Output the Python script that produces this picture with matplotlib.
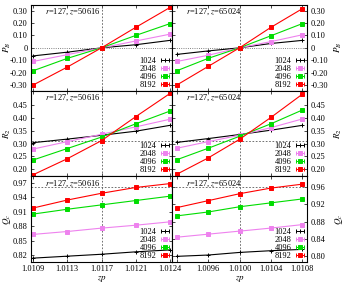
import matplotlib.pyplot as plt
import numpy as np

plt.rcParams['font.family'] = 'serif'
plt.rcParams['font.serif'] = ['Liberation Serif', 'DejaVu Serif']
plt.rcParams['mathtext.fontset'] = 'stix'
plt.rcParams['font.size'] = 6

# system sizes and styles
sizes = ['1024', '2048', '4096', '8192']
colors = ['black', '#ee82ee', '#00dd00', '#ff0000']
markers = ['+', 's', 's', 's']
msizes = [3, 2.2, 2.5, 3.2]

# zp values (x)
zp_left = [1.01088, 1.01127, 1.01166, 1.01205, 1.01244]
zp_left_labels = ['1.0109', '1.0113', '1.0117', '1.0121', '1.0124']
zp_right = [1.0092, 1.0096, 1.0100, 1.0104, 1.0108]
zp_right_labels = ['', '1.0096', '1.0100', '1.0104', '1.0108']

# P_B, rows = 1024, 2048, 4096, 8192
pb_left = [[-0.065, -0.035, 0.0, 0.025, 0.06],
           [-0.11, -0.055, 0.0, 0.055, 0.11],
           [-0.185, -0.085, 0.0, 0.10, 0.195],
           [-0.30, -0.155, 0.0, 0.165, 0.325]]
pb_right = [[-0.053, -0.025, 0.0, 0.035, 0.06],
            [-0.11, -0.06, 0.0, 0.05, 0.105],
            [-0.185, -0.085, 0.0, 0.097, 0.195],
            [-0.30, -0.15, 0.0, 0.165, 0.315]]

# R_2
r2_left = [[0.304, 0.318, 0.333, 0.349, 0.372],
           [0.279, 0.308, 0.337, 0.366, 0.396],
           [0.236, 0.281, 0.326, 0.378, 0.428],
           [0.178, 0.241, 0.312, 0.406, 0.497]]
r2_right = [[0.305, 0.320, 0.336, 0.353, 0.372],
            [0.282, 0.308, 0.333, 0.363, 0.397],
            [0.237, 0.282, 0.329, 0.378, 0.432],
            [0.180, 0.244, 0.317, 0.403, 0.494]]

# Q_c
qc_left = [[0.814, 0.818, 0.822, 0.827, 0.831],
           [0.863, 0.869, 0.876, 0.882, 0.889],
           [0.905, 0.915, 0.924, 0.933, 0.942],
           [0.9175, 0.934, 0.948, 0.960, 0.968]]
qc_right = [[0.800, 0.803, 0.809, 0.813, 0.816],
            [0.844, 0.851, 0.858, 0.865, 0.873],
            [0.893, 0.902, 0.914, 0.923, 0.932],
            [0.912, 0.928, 0.944, 0.957, 0.966]]

pb_ticks = [-0.3, -0.2, -0.1, 0.0, 0.1, 0.2, 0.3]
pb_ticklabels = ['-0.30', '-0.20', '-0.10', '0', '0.10', '0.20', '0.30']
r2_ticks = [0.20, 0.25, 0.30, 0.35, 0.40, 0.45]
r2_ticklabels = ['0.20', '0.25', '0.30', '0.35', '0.40', '0.45']
qc_left_ticks = [0.82, 0.85, 0.88, 0.91, 0.94, 0.97]
qc_left_ticklabels = ['0.82', '0.85', '0.88', '0.91', '0.94', '0.97']
qc_right_ticks = [0.80, 0.84, 0.88, 0.92, 0.96]
qc_right_ticklabels = ['0.80', '0.84', '0.88', '0.92', '0.96']

fig = plt.figure(figsize=(3.45, 2.86), dpi=100)
gs = fig.add_gridspec(3, 2, left=31/345, right=307/345, top=1-5/286,
                      bottom=1-262/286, hspace=0, wspace=0,
                      width_ratios=[141, 135])

cols = [
    dict(x=zp_left, xl=(1.010857, 1.012463), xlab=zp_left_labels,
         xc=1.01166, text=r'$r$=127, $z$=50616', side='left'),
    dict(x=zp_right, xl=(1.00914, 1.01086), xlab=zp_right_labels,
         xc=1.0100, text=r'$r$=127, $z$=65024', side='right'),
]
rows = [
    dict(name='$P_B$', data=[pb_left, pb_right], yl=[(-0.345, 0.345)] * 2,
         ticks=[pb_ticks, pb_ticks], tl=[pb_ticklabels, pb_ticklabels],
         h=[0.0, 0.0], hls=':'),
    dict(name='$R_2$', data=[r2_left, r2_right], yl=[(0.172, 0.508)] * 2,
         ticks=[r2_ticks, r2_ticks], tl=[r2_ticklabels, r2_ticklabels],
         h=[0.310, 0.310], hls=(0, (2, 2))),
    dict(name='$Q_c$', data=[qc_left, qc_right],
         yl=[(0.806, 0.983), (0.787, 0.984)],
         ticks=[qc_left_ticks, qc_right_ticks],
         tl=[qc_left_ticklabels, qc_right_ticklabels],
         h=[0.961, 0.960], hls=(0, (2, 2))),
]

for i, row in enumerate(rows):
    for j, col in enumerate(cols):
        ax = fig.add_subplot(gs[i, j])
        ax.set_xlim(*col['xl'])
        ax.set_ylim(*row['yl'][j])
        ax.axvline(col['xc'], color='0.35', lw=0.6, ls=(0, (2, 2)))
        ax.axhline(row['h'][j], color='0.35', lw=0.6, ls=row['hls'])

        handles = []
        for k in range(4):
            ax.plot(col['x'], row['data'][j][k], color=colors[k], lw=0.8,
                    marker=markers[k], ms=msizes[k], mew=0.7)
            h = ax.errorbar([np.nan], [np.nan], xerr=[1], fmt=markers[k],
                            color=colors[k], ms=msizes[k], mew=0.7,
                            capsize=1.5, elinewidth=0.7, capthick=0.7)
            handles.append(h)
        ax.legend(handles, sizes, loc='lower right', frameon=False,
                  markerfirst=False, handlelength=1.2, handletextpad=0.4,
                  labelspacing=0.0, borderpad=0.1, borderaxespad=0.15,
                  fontsize=6)

        ax.text(0.1, 0.915, col['text'], transform=ax.transAxes,
                ha='left', va='center', fontsize=6)

        ax.set_xticks(col['x'])
        if i == 2:
            ax.set_xticklabels(col['xlab'])
            ax.set_xlabel('$zp$', fontsize=6.5)
            ax.xaxis.set_label_coords(0.5, -0.13)
        else:
            ax.set_xticklabels([])

        ax.set_yticks(row['ticks'][j])
        ax.set_yticklabels(row['tl'][j])
        ax.tick_params(direction='in', top=True, bottom=True, left=True,
                       right=True, length=2.5, width=0.5, pad=2.5)
        ax.set_ylabel(row['name'], fontsize=6.5)
        if col['side'] == 'right':
            ax.yaxis.tick_right()
            ax.tick_params(left=True)
            ax.yaxis.set_label_position('right')
            ax.yaxis.set_label_coords(1.19, 0.5)
        else:
            ax.yaxis.set_label_coords(-0.13, 0.5)
        for s in ax.spines.values():
            s.set_linewidth(0.8)

fig.savefig('out.png', dpi=100)
